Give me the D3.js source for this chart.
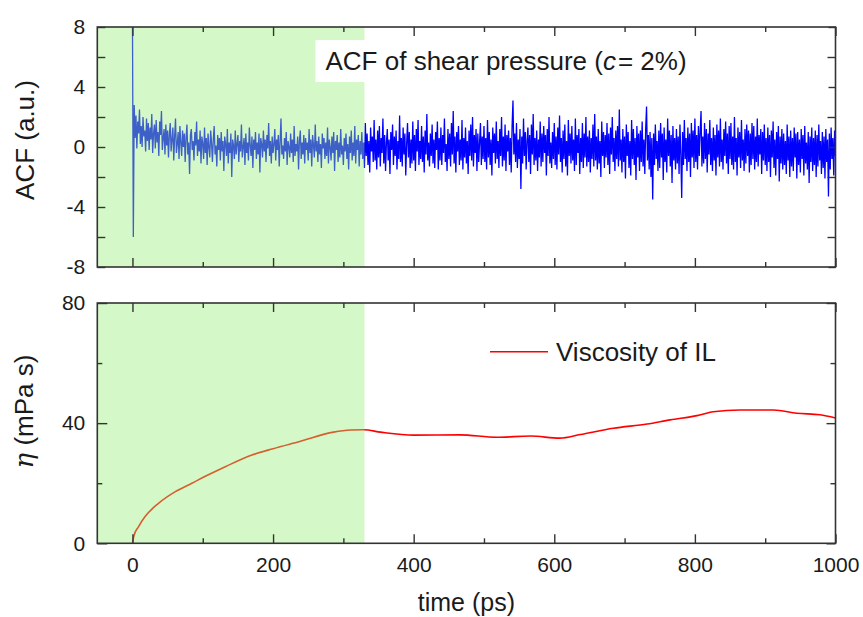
<!DOCTYPE html>
<html lang="en">
<head>
<meta charset="UTF-8">
<title>ACF and viscosity</title>
<style>
  body { margin: 0; background: #fff; }
  svg text { font-family: "Liberation Sans", Arial, sans-serif; fill: #1a1a1a; }
</style>
</head>
<body>
<svg id="chart" width="863" height="617"></svg>
<script src="https://d3js.org/d3.v7.min.js"></script>
<script>
// ACF of shear pressure, sampled every 1.25 ps from t = 0 (one row = 25 ps)
const acfStep = 1.25;
const acfValues = [
  8.5, -6.0, 2.8, 0.6, 2.1, -0.1, 1.7, 0.9, 2.5, 0.2, 1.4, 0.0, 2.0, 0.7, 1.1, -0.3, 1.9, 0.4, 1.6, -0.2,
  1.3, 0.5, 2.2, -0.4, 0.9, 1.5, -0.1, 1.8, 0.3, 1.0, -0.6, 1.7, 0.8, 2.4, -0.2, 0.6, 1.2, -0.5, 1.5, 0.1,
  1.1, -0.7, 0.8, 1.6, -0.3, 0.5, 1.3, -0.9, 0.7, 1.9, -0.4, 0.2, 1.0, -0.8, 1.4, 0.3, -0.6, 1.1, 0.0, 0.9,
  -1.0, 0.6, 1.5, -0.5, 0.3, -1.8, 0.8, 1.2, -0.2, 0.4, -0.9, 1.0, 0.1, 1.7, -0.6, 0.5, -0.3, 1.1, -1.1, 0.7,
  0.2, -0.8, 1.3, -0.4, 0.6, -1.2, 0.9, 0.0, -0.7, 1.1, 0.3, -1.0, 0.5, 1.4, -0.5, 0.1, -1.3, 0.8, -0.2, 0.6,
  -0.9, 1.0, -0.3, 0.4, -1.6, 0.7, 0.2, -0.6, 1.2, -1.1, 0.3, -0.4, 0.9, -2.0, 0.5, 0.1, -0.8, 1.1, -0.5, 0.2,
  0.8, -1.0, 0.4, -0.3, 1.5, -0.7, 0.0, 0.6, -1.2, 0.9, -0.4, 0.3, -0.9, 1.3, 0.1, -0.6, 0.7, -1.4, 0.5, -0.2,
  1.0, -0.8, 0.3, -0.5, 0.9, -1.7, 0.6, 0.2, -0.7, 1.1, -0.3, 0.5, -1.0, 0.8, -0.1, 1.6, -0.6, 0.4, -1.1, 0.7,
  -0.4, 0.2, 1.2, -0.9, 0.5, -0.2, 0.8, -1.3, 0.3, 1.9, -0.5, 0.1, -0.8, 0.6, -0.3, 1.0, -1.2, 0.4, 0.0, -0.7,
  0.9, -0.4, 0.5, -1.0, 1.4, -0.6, 0.2, -0.3, 0.7, -1.5, 0.4, 1.1, -0.8, 0.3, -0.5, 0.8, -1.1, 0.6, -0.2, 0.3,
  -0.9, 1.2, -0.4, 0.5, -1.3, 0.8, 0.1, -0.7, 1.5, -0.3, 0.4, -1.0, 0.7, -0.5, 0.2, -1.4, 0.9, -0.1, 0.6, -0.8,
  0.3, -0.6, 1.3, -1.1, 0.5, 0.0, -0.9, 0.7, -0.4, 1.0, -1.6, 0.4, -0.2, 0.8, -1.0, 0.3, -0.7, 1.2, -0.5, 0.1,
  -1.2, 0.6, -0.3, 0.9, -0.8, 0.2, -1.5, 0.7, -0.4, 1.1, -0.9, 0.3, -0.6, 1.4, -1.1, 0.5, -0.2, 0.8, -1.3, 0.4,
  -0.5, 1.0, -0.8, 0.3, -1.4, 1.6, -0.6, 0.9, -1.2, 0.4, -1.7, 1.3, -0.3, 0.7, -1.0, 1.8, -0.9, 0.5, -1.5, 1.1,
  -0.7, 1.4, -1.3, 0.6, -0.4, 1.9, -1.1, 0.8, -1.6, 0.3, 1.2, -0.9, 0.5, -1.8, 1.0, -0.2, 1.5, -1.2, 0.7, -0.6,
  1.1, -1.5, 0.4, -0.8, 2.1, -1.0, 0.6, -1.3, 1.3, -0.5, 0.9, -1.9, 0.2, 1.6, -0.7, 1.0, -1.4, 0.5, -1.1, 1.7,
  -0.9, 0.8, -1.6, 1.2, -0.3, 1.8, -1.2, 0.4, -0.8, 1.4, -1.0, 0.7, -1.7, 1.1, -0.5, 2.2, -0.9, 0.3, -1.3, 0.9,
  -0.6, 1.5, -1.1, 0.5, -1.4, 1.0, -0.2, 1.7, -1.5, 0.6, -0.9, 1.3, -1.2, 0.8, -0.4, 1.9, -1.0, 0.2, -1.6, 1.2,
  -0.8, 0.9, -1.3, 1.6, -0.5, 2.4, -1.1, 0.7, -1.7, 1.0, -0.3, 1.4, -1.2, 0.5, -0.9, 1.8, -1.5, 0.6, -0.7, 1.3,
  -1.1, 0.4, -1.8, 1.1, -0.6, 1.5, -0.9, 2.0, -1.3, 0.8, -0.4, 1.2, -1.6, 0.9, -1.0, 0.3, 1.6, -1.2, 0.7, -0.8,
  1.4, -1.0, 0.6, -1.5, 1.8, -0.7, 1.0, -1.2, 0.5, -1.9, 1.3, -0.4, 0.9, -1.1, 1.7, -0.8, 0.4, -1.4, 1.2, -0.6,
  2.0, -1.3, 0.7, -0.9, 1.5, -1.6, 0.8, -0.3, 1.1, -1.2, 0.6, -1.7, 1.4, 3.1, -0.5, 0.9, -1.0, 1.6, -1.4, 0.5,
  -0.8, 1.2, -2.8, 0.7, -1.1, 1.9, -0.6, 1.0, -1.5, 0.4, 1.3, -1.0, 0.8, -1.8, 1.5, -0.5, 2.2, -1.2, 0.6, -0.9,
  1.1, -1.6, 0.5, -0.7, 1.7, -1.3, 0.9, -1.0, 1.4, -0.4, 0.8, -1.9, 1.2, -0.6, 2.0, -1.1, 0.3, -1.4, 1.0, -0.8,
  1.6, -1.2, 0.7, -1.5, 1.3, -0.5, 2.1, -1.0, 0.6, -1.7, 1.1, -0.8, 1.5, -1.3, 0.4, -1.9, 1.8, -0.6, 0.9, -1.1,
  1.4, -0.9, 0.5, -1.6, 1.9, -1.2, 0.8, -0.4, 1.2, -1.8, 0.6, -1.0, 1.6, -1.4, 0.9, -0.7, 2.0, -1.3, 0.7, -1.0,
  1.1, -1.7, 0.6, -0.8, 1.5, -1.3, 2.2, -0.9, 0.7, -1.5, 1.2, -1.1, 0.4, -2.0, 1.7, -0.6, 1.0, -1.4, 0.8, -0.7,
  1.6, -1.2, 0.9, -1.8, 1.3, -0.5, 2.0, -1.0, 0.6, -1.6, 1.1, -0.8, 1.4, -1.3, 2.5, -0.9, 0.5, -1.7, 1.2, -1.0,
  0.7, -2.1, 1.5, -0.6, 1.0, -1.4, 0.4, -1.9, 1.8, -0.8, 1.2, -1.2, 0.6, -2.2, 1.4, -0.7, 0.9, -1.6, 1.1, -1.0,
  1.7, -1.3, 0.5, -1.8, 1.2, 2.7, -0.9, 0.8, -1.5, 1.0, -2.0, 0.6, -3.5, 0.9, -1.2, 1.5, -0.8, 0.4, -1.6, 1.1,
  -1.4, 1.6, -0.7, 0.9, -2.2, 1.3, -1.0, 0.5, -1.7, 1.9, -0.6, 1.1, -1.3, 0.8, -2.4, 1.4, -0.9, 0.6, -1.5, 1.2,
  -1.1, 0.7, -1.8, 1.5, -0.5, -3.4, 1.0, -1.2, 1.8, -0.8, 0.6, -1.6, 1.3, -1.0, 0.9, -2.0, 1.6, -0.7, 1.1, -1.4,
  1.9, -1.0, 0.8, -1.5, 1.4, -0.6, 1.0, 2.4, -1.3, 0.7, -1.1, 1.6, -0.8, 1.2, -1.7, 0.9, -0.5, 1.8, -1.2, 0.6,
  -1.6, 1.3, -0.9, 0.8, -1.9, 1.5, -0.7, 1.1, -1.3, 1.9, -1.0, 0.5, -1.5, 1.2, -0.6, 1.7, -1.1, 0.9, -1.8, 1.4,
  -0.8, 1.6, -1.2, 0.7, -1.5, 2.0, -1.0, 0.6, -1.9, 1.3, -0.7, 1.0, -1.4, 1.8, -0.9, 0.5, -1.6, 1.2, -1.1, 1.5,
  -0.6, 1.1, -1.7, 0.9, -1.2, 1.6, -0.8, 1.4, -1.5, 0.7, -1.0, 1.9, -1.3, 0.8, -0.5, 1.2, -1.8, 1.0, -0.9, 1.5,
  -1.2, 0.6, -1.6, 1.3, -1.0, 0.8, -2.0, 1.1, -0.7, 1.7, -1.4, 0.5, -1.9, 1.0, -0.8, 1.4, -2.3, 0.7, -1.1, 1.2,
  -1.5, 0.9, -1.2, 0.4, -1.8, 1.5, -0.9, 0.7, -2.0, 1.1, -1.3, 0.6, -1.6, 1.3, -0.7, 0.9, -2.1, 1.0, -1.2, 0.5,
  -1.7, 1.2, -0.8, 0.8, -1.9, 1.4, -1.1, 0.3, -1.5, 1.0, -2.4, 0.7, -1.0, 1.3, -1.6, 0.6, -1.2, 1.1, -2.0, 0.8,
  -1.3, 1.5, -0.9, 0.4, -1.8, 1.0, -1.4, 0.7, -2.1, 1.2, -1.0, 0.5, -3.3, 0.9, -1.5, 1.3, -0.8, 0.6, -1.9, 1.1,
  -0.6
];

// viscosity of IL (mPa s)
const viscTime  = [0, 2, 8.5, 18, 37, 61, 84.5, 108, 132, 170, 200, 238, 286, 310, 329, 353, 400, 466, 518, 566, 608, 637, 684, 732, 765, 803, 826, 864, 912, 945, 978, 1000];
const viscValue = [0, 2.4, 5.5, 8.9, 13.3, 17.2, 20.0, 22.8, 25.5, 29.4, 31.5, 33.9, 37.0, 37.7, 37.8, 37.0, 36.0, 36.1, 35.3, 35.7, 35.0, 36.2, 38.3, 39.7, 41.1, 42.5, 43.8, 44.4, 44.4, 43.3, 42.8, 41.7];

const equilEnd = 330;              // shaded region ends here (ps)
const xMajor = [0, 200, 400, 600, 800, 1000];
const xMinor = [100, 300, 500, 700, 900];
const acfTicks = [8, 4, 0, -4, -8];
const acfMinor = [6, 2, -2, -6];
const viscTicks = [0, 40, 80];
const viscMinor = [20, 60];

const svg = d3.select("#chart");
const left = 97.3, right = 835.5;
const x = d3.scaleLinear().domain([-50, 1000]).range([left, right]);
const yAcf = d3.scaleLinear().domain([-8, 8]).range([267, 27]);
const yVisc = d3.scaleLinear().domain([0, 80]).range([543.3, 303]);

const shadeColor = "rgb(150,237,118)";
const plain = d => String(d);

function frame(y, major, minor, majorLen, minorLen, labelsX) {
  const g = svg.append("g");
  const [y0, y1] = y.range();
  // bottom
  g.append("g").attr("transform", `translate(0,${y0})`)
    .call(d3.axisBottom(x).tickValues(xMajor).tickSize(-9).tickPadding(14).tickFormat(labelsX ? plain : ""));
  g.append("g").attr("transform", `translate(0,${y0})`)
    .call(d3.axisBottom(x).tickValues(xMinor).tickSize(-5).tickFormat(""));
  // top
  g.append("g").attr("transform", `translate(0,${y1})`)
    .call(d3.axisTop(x).tickValues(xMajor).tickSize(-9).tickFormat(""));
  g.append("g").attr("transform", `translate(0,${y1})`)
    .call(d3.axisTop(x).tickValues(xMinor).tickSize(-5).tickFormat(""));
  // left
  g.append("g").attr("transform", `translate(${left},0)`)
    .call(d3.axisLeft(y).tickValues(major).tickSize(-majorLen).tickPadding(12).tickFormat(plain));
  g.append("g").attr("transform", `translate(${left},0)`)
    .call(d3.axisLeft(y).tickValues(minor).tickSize(-minorLen).tickFormat(""));
  // right
  g.append("g").attr("transform", `translate(${right},0)`)
    .call(d3.axisRight(y).tickValues(major).tickSize(-majorLen + 1).tickFormat(""));
  g.append("g").attr("transform", `translate(${right},0)`)
    .call(d3.axisRight(y).tickValues(minor).tickSize(-minorLen).tickFormat(""));

  g.selectAll(".domain").remove();
  g.selectAll(".tick line").attr("stroke", "#333").attr("stroke-width", 1.4);
  g.selectAll(".tick text").attr("font-size", 21).attr("fill", "#1a1a1a")
    .style("font-family", '"Liberation Sans", Arial, sans-serif');
  g.append("rect")
    .attr("x", left).attr("y", y1)
    .attr("width", right - left).attr("height", y0 - y1)
    .attr("fill", "none").attr("stroke", "#333").attr("stroke-width", 1.6);
}

// clip paths
const defs = svg.append("defs");
defs.append("clipPath").attr("id", "clipTop").append("rect")
  .attr("x", left).attr("y", yAcf(8)).attr("width", right - left).attr("height", yAcf(-8) - yAcf(8));
defs.append("clipPath").attr("id", "clipBot").append("rect")
  .attr("x", left).attr("y", yVisc(80)).attr("width", right - left).attr("height", yVisc(0) - yVisc(80));

// ---- top panel: ACF ----
const acfLine = d3.line()
  .x((d, i) => x(i * acfStep))
  .y(d => yAcf(d));
const topG = svg.append("g").attr("clip-path", "url(#clipTop)");
topG.append("path")
  .datum(acfValues)
  .attr("d", acfLine)
  .attr("fill", "none")
  .attr("stroke", "#0000ff")
  .attr("stroke-width", 1.3);
topG.append("rect")
  .attr("x", x(-50)).attr("y", yAcf(8))
  .attr("width", x(equilEnd) - x(-50)).attr("height", yAcf(-8) - yAcf(8))
  .attr("fill", shadeColor).attr("opacity", 0.4);

// legend box
svg.append("rect").attr("x", 315.5).attr("y", 40).attr("width", 400).attr("height", 42).attr("fill", "#fff");
const t1 = svg.append("text").attr("x", 325.5).attr("y", 70).attr("font-size", 26);
t1.append("tspan").text("ACF of shear pressure (");
t1.append("tspan").attr("font-style", "italic").text("c");
t1.append("tspan").attr("dx", 2).text("= 2%)");

frame(yAcf, acfTicks, acfMinor, 8, 8, false);

// ---- bottom panel: viscosity ----
const visc = viscTime.map((t, i) => ({ t: t, v: viscValue[i] }));
const viscLine = d3.line()
  .x(d => x(d.t))
  .y(d => yVisc(d.v))
  .curve(d3.curveMonotoneX);
const botG = svg.append("g").attr("clip-path", "url(#clipBot)");
botG.append("path")
  .datum(visc)
  .attr("d", viscLine)
  .attr("fill", "none")
  .attr("stroke", "#ff0000")
  .attr("stroke-width", 1.6);
botG.append("rect")
  .attr("x", x(-50)).attr("y", yVisc(80))
  .attr("width", x(equilEnd) - x(-50)).attr("height", yVisc(0) - yVisc(80))
  .attr("fill", shadeColor).attr("opacity", 0.4);

// legend
svg.append("line").attr("x1", 490).attr("x2", 548).attr("y1", 351.7).attr("y2", 351.7)
  .attr("stroke", "#ff0000").attr("stroke-width", 1.6);
svg.append("text").attr("x", 556).attr("y", 361).attr("font-size", 26).text("Viscosity of IL");

frame(yVisc, viscTicks, viscMinor, 10, 5, true);

// axis titles
svg.append("text")
  .attr("transform", "translate(33.5,140) rotate(-90)")
  .attr("text-anchor", "middle").attr("font-size", 26)
  .text("ACF (a.u.)");
const eta = svg.append("text")
  .attr("transform", "translate(33,411.5) rotate(-90)")
  .attr("text-anchor", "middle").attr("font-size", 26);
eta.append("tspan").attr("font-style", "italic").attr("font-family", '"DejaVu Serif", serif').text("η");
eta.append("tspan").text(" (mPa s)");
svg.append("text")
  .attr("x", (left + right) / 2).attr("y", 611)
  .attr("text-anchor", "middle").attr("font-size", 25)
  .text("time (ps)");
</script>
</body>
</html>
